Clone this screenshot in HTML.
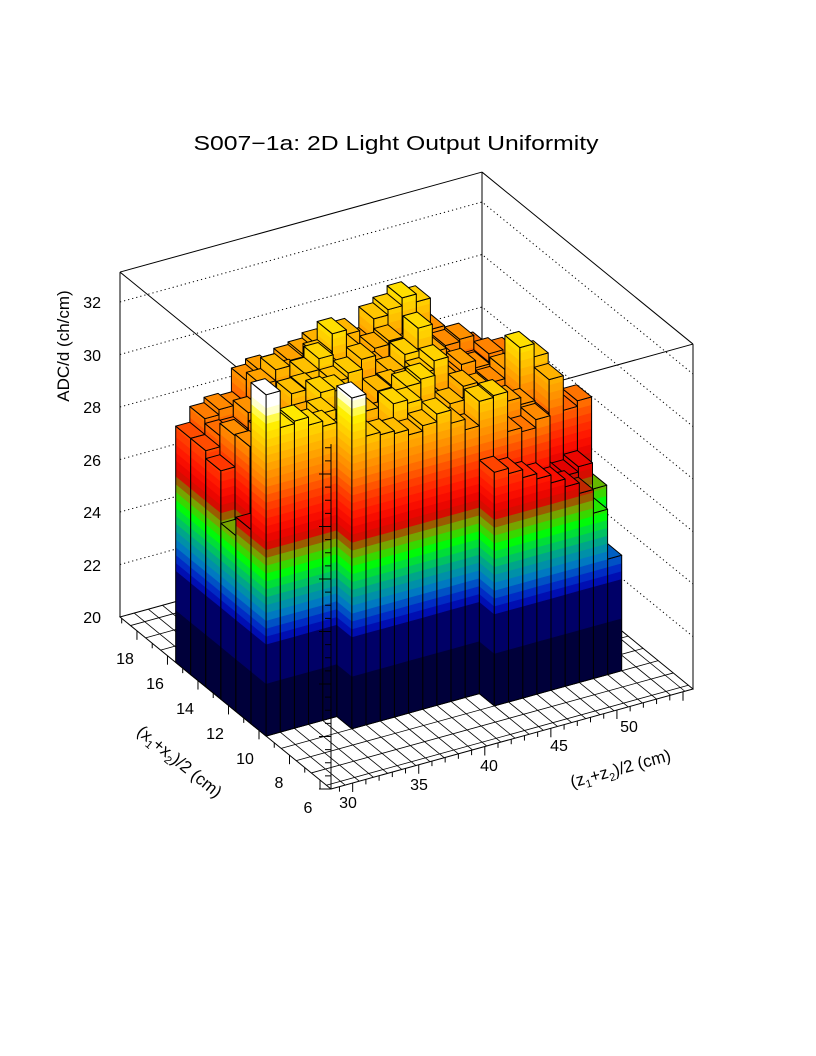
<!DOCTYPE html>
<html><head><meta charset="utf-8"><style>
html,body{margin:0;padding:0;background:#fff;}
svg{display:block;}
text{font-family:"Liberation Sans",sans-serif;fill:#000;}
</style></head><body>
<svg id="s" width="816" height="1056" viewBox="0 0 816 1056" xmlns="http://www.w3.org/2000/svg">
<rect width="816" height="1056" fill="#fff"/>
<g id="floor"></g>
<g id="walls" fill="none" stroke="#000" stroke-width="1"></g>
<g id="bars" stroke-linejoin="round"></g>
<g id="axes" stroke="#000" stroke-width="1" fill="none"></g>
<text x="396" y="150" font-size="20" text-anchor="middle" textLength="405" lengthAdjust="spacingAndGlyphs">S007−1a: 2D Light Output Uniformity</text>
<g font-size="16" text-anchor="end">
<text x="101" y="308">32</text>
<text x="101" y="361">30</text>
<text x="101" y="413">28</text>
<text x="101" y="466">26</text>
<text x="101" y="518">24</text>
<text x="101" y="571">22</text>
<text x="101" y="623">20</text>
</g>
<text transform="translate(69,346) rotate(-90)" font-size="17" text-anchor="middle">ADC/d (ch/cm)</text>
<g font-size="16" text-anchor="middle">
<text x="348" y="808">30</text>
<text x="419" y="790">35</text>
<text x="489" y="771">40</text>
<text x="559" y="751">45</text>
<text x="629" y="732">50</text>
<text x="125" y="664">18</text>
<text x="155" y="689">16</text>
<text x="185" y="714">14</text>
<text x="215" y="739">12</text>
<text x="245" y="764">10</text>
<text x="279" y="788">8</text>
<text x="308" y="813">6</text>
</g>
<text transform="translate(176,766) rotate(39)" font-size="17" text-anchor="middle">(x<tspan font-size="11" dy="4">1</tspan><tspan dy="-4">+x</tspan><tspan font-size="11" dy="4">2</tspan><tspan dy="-4">)/2 (cm)</tspan></text>
<text transform="translate(622,774) rotate(-15.5)" font-size="17" text-anchor="middle">(z<tspan font-size="11" dy="4">1</tspan><tspan dy="-4">+z</tspan><tspan font-size="11" dy="4">2</tspan><tspan dy="-4">)/2 (cm)</tspan></text>
</svg>
<script>
(function(){
var NS="http://www.w3.org/2000/svg";
function el(p,n,a){var e=document.createElementNS(NS,n);for(var k in a)e.setAttribute(k,a[k]);p.appendChild(e);return e;}
function P(u,v,z){return [331+362*u-211*v, 789-100*u-172*v-(z-20)*26.25];}
function pts(a){return a.map(function(p){return p[0].toFixed(1)+","+p[1].toFixed(1);}).join(" ");}
var floor=document.getElementById("floor"),walls=document.getElementById("walls"),bars=document.getElementById("bars"),axes=document.getElementById("axes");
el(floor,"polygon",{points:pts([P(0,0,20),P(1,0,20),P(1,1,20),P(0,1,20)]),fill:"#fff",stroke:"#000","stroke-width":1});
var du=0.0391,dv=0.0714;
for(var k=1;k<26;k++){var u=k*du;if(u>=1)break;el(floor,"line",{x1:P(u,0,20)[0],y1:P(u,0,20)[1],x2:P(u,1,20)[0],y2:P(u,1,20)[1],stroke:"#000","stroke-width":0.8});}
for(var k=0;k<15;k++){var v=0.022+k*dv;if(v>=1||v<=0)continue;el(floor,"line",{x1:P(0,v,20)[0],y1:P(0,v,20)[1],x2:P(1,v,20)[0],y2:P(1,v,20)[1],stroke:"#000","stroke-width":0.8});}
var zt=33.14;
function L(g,a,b,extra){var o={x1:a[0],y1:a[1],x2:b[0],y2:b[1]};for(var k in extra)o[k]=extra[k];el(g,"line",o);}
L(walls,P(0,1,20),P(0,1,zt));L(walls,P(1,1,20),P(1,1,zt));L(walls,P(1,0,20),P(1,0,zt));L(walls,P(0,0,20),P(0,0,zt));
L(walls,P(0,1,zt),P(1,1,zt));L(walls,P(1,1,zt),P(1,0,zt));L(walls,P(0,1,zt),P(0,0,zt));L(walls,P(0,0,zt),P(1,0,zt));
for(var z=22;z<=32;z+=2){el(walls,"polyline",{points:pts([P(0,1,z),P(1,1,z),P(1,0,z)]),"stroke-dasharray":"1.2 3"});}
var stops=[[20,[0,0,58]],[21.99,[0,0,58]],[22,[0,0,96]],[23.49,[0,0,110]],[23.5,[0,0,168]],[24,[0,48,200]],[24.6,[0,128,192]],[25.1,[0,160,144]],[25.6,[0,208,80]],[26.1,[0,255,0]],[26.6,[112,176,0]],[27.0,[160,80,0]],[27.3,[224,0,0]],[28.0,[255,16,0]],[28.8,[255,64,0]],[29.6,[255,128,0]],[30.4,[255,170,0]],[31.2,[255,210,0]],[31.9,[255,245,0]],[32.2,[255,255,150]],[32.5,[255,255,255]],[40,[255,255,255]]];
function col(z){for(var k=0;k<stops.length-1;k++){var a=stops[k],b=stops[k+1];if(z<=b[0]){var t=(z-a[0])/(b[0]-a[0]);if(t<0)t=0;var c=[0,1,2].map(function(q){return Math.round(a[1][q]+(b[1][q]-a[1][q])*t);});return "rgb("+c.join(",")+")";}}return "#fff";}
var bands=[[20,22],[22,23.5]];for(var z=23.5;z<34;z+=0.3)bands.push([z,z+0.3]);
function face(A,B,h){
  for(var k=0;k<bands.length;k++){var a=bands[k][0],b=Math.min(bands[k][1],h);if(a>=h)break;
    var c=col((a+b)/2);el(bars,"polygon",{points:pts([P(A[0],A[1],a),P(B[0],B[1],a),P(B[0],B[1],b),P(A[0],A[1],b)]),fill:c,stroke:c,"stroke-width":0.6});}
  el(bars,"polygon",{points:pts([P(A[0],A[1],20),P(B[0],B[1],20),P(B[0],B[1],h),P(A[0],A[1],h)]),fill:"none",stroke:"#000","stroke-width":1});
}
var NX=23,NY=9,H=[];
for(var i=0;i<NX;i++){H[i]=[];for(var j=0;j<NY;j++){
  var b=30.6+0.5*Math.sin(i*1.7+j*2.3)+0.4*Math.cos(i*0.9-j*1.3);
  if(i<5)b=29.6+0.4*Math.sin(i*2.1+j*1.3);
  if(i>=16)b=30.0-(i-16)*0.15+0.4*Math.sin(i*1.3+j*2.1);
  H[i][j]=b;}}
function S(i,j,z){H[i][j]=z;}
S(0,7,29.0);S(0,6,29.0);S(0,5,28.7);S(0,4,26.7);S(0,3,27.4);S(0,2,33.0);
S(1,2,31.6);S(2,2,31.7);S(3,2,31.4);S(4,2,31.2);S(1,7,29.6);S(2,7,29.8);
S(5,1,32.6);S(6,1,31.0);S(7,1,30.9);S(8,1,30.8);S(9,1,30.6);S(10,1,30.8);S(11,1,31.1);S(12,1,30.6);S(13,1,30.2);
S(14,0,28.9);S(15,0,28.7);S(16,0,28.4);S(17,0,28.2);S(18,0,27.9);S(19,0,27.6);S(20,0,27.2);S(21,0,26.3);S(22,0,24.4);
S(22,1,26.6);S(21,1,27.6);S(20,1,27.4);S(19,1,27.5);
S(5,8,30.0);S(6,8,30.2);S(7,8,30.1);S(8,8,30.3);S(9,8,30.4);S(10,8,30.6);S(11,8,30.5);S(12,8,30.7);S(13,8,30.2);
S(14,8,31.0);S(15,8,31.2);S(16,8,31.5);S(17,8,31.2);S(18,8,30.0);
S(19,3,31.5);S(20,3,31.0);S(20,2,30.6);S(19,4,30.2);S(21,3,29.2);
function jmin(i){return i<5?2:(i<14?1:0);}
function jmax(i){return i<5?7:(i<19?8:7);}
for(var i=NX-1;i>=0;i--){for(var j=jmax(i);j>=jmin(i);j--){
  var h=H[i][j],u0=i*du,u1=(i+1)*du,v0=0.165+j*dv,v1=v0+dv;
  face([u0,v1],[u0,v0],h);
  face([u0,v0],[u1,v0],h);
  var c=col(h-0.05);
  el(bars,"polygon",{points:pts([P(u0,v0,h),P(u1,v0,h),P(u1,v1,h),P(u0,v1,h)]),fill:c,stroke:"#000","stroke-width":1});
}}
L(axes,P(0,0,20),P(0,0,zt));
for(var z=20;z<=33.01;z+=0.5){var p=P(0,0,z);var len=(Math.abs(z%2)<0.01)?12:6;L(axes,[p[0]-len,p[1]],p);}
for(var x=29;x<=55;x++){var u=(x-28.36)*0.0365;if(u<0||u>1)continue;var p=P(u,0,20);var len=(x%5==0)?9:5;L(axes,p,[p[0],p[1]+len]);}
for(var y=6;y<=20;y++){var v=(y-5.28)*0.0723;if(v<0||v>1)continue;var p=P(0,v,20);var len=(y%2==0)?9:5;L(axes,p,[p[0],p[1]+len]);}
})();
</script>
</body></html>
